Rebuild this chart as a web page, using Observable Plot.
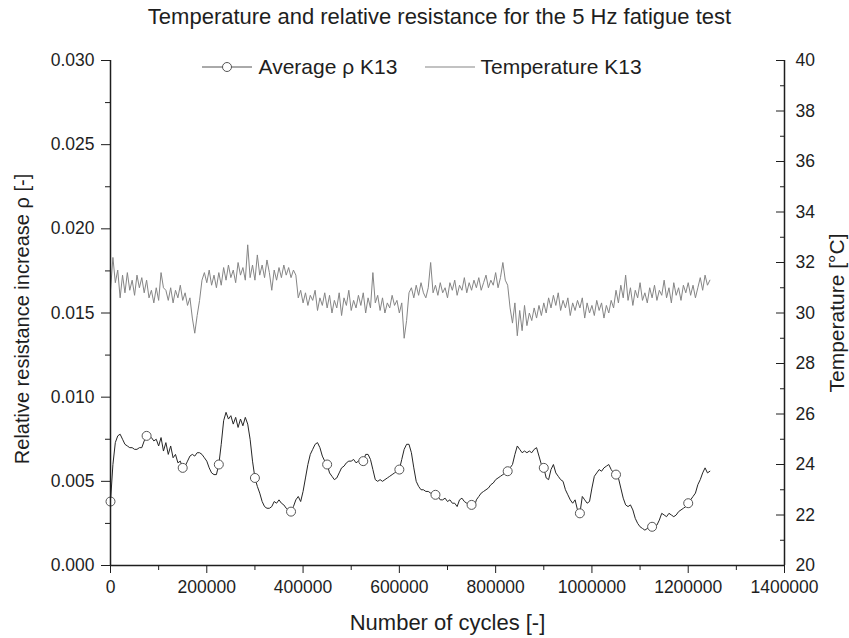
<!DOCTYPE html>
<html><head><meta charset="utf-8">
<script src="https://cdn.jsdelivr.net/npm/d3@7"></script>
<script src="https://cdn.jsdelivr.net/npm/@observablehq/plot@0.6"></script>
<style>body{margin:0;background:#fff;} svg{display:block;}</style>
</head><body><div id="chart"></div>
<script>
const titleText = "Temperature and relative resistance for the 5 Hz fatigue test";
const xLabel = "Number of cycles [-]";
const yLabelLeft = "Relative resistance increase \u03c1 [-]";
const yLabelRight = "Temperature [\u00b0C]";
const seriesNames = ["Average \u03c1 K13", "Temperature K13"];

const cycleStep = 5000;      // spacing of the recorded points (cycles)
const markerEvery = 15;      // a circle marker on every 15th point

// Average rho K13, from 0 to 1 245 000 cycles
const rhoValues = [
  0.0038, 0.0060, 0.0073, 0.0077, 0.0078, 0.0075, 0.0072, 0.0071, 0.0070, 0.0070, 0.0069, 0.0069, 0.0070, 0.0070, 0.0074,
  0.0077, 0.0077, 0.0076, 0.0074, 0.0075, 0.0071, 0.0076, 0.0068, 0.0073, 0.0066, 0.0071, 0.0064, 0.0066, 0.0061, 0.0062,
  0.0058, 0.0059, 0.0062, 0.0065, 0.0066, 0.0065, 0.0067, 0.0067, 0.0066, 0.0064, 0.0062, 0.0058, 0.0055, 0.0054, 0.0054,
  0.0060, 0.0072, 0.0086, 0.0091, 0.0087, 0.0089, 0.0084, 0.0088, 0.0082, 0.0087, 0.0083, 0.0088, 0.0084, 0.0075, 0.0062,
  0.0052, 0.0047, 0.0043, 0.0038, 0.0035, 0.0034, 0.0034, 0.0035, 0.0038, 0.0037, 0.0039, 0.0037, 0.0036, 0.0034, 0.0033,
  0.0032, 0.0035, 0.0039, 0.0041, 0.0038, 0.0044, 0.0052, 0.0060, 0.0066, 0.0069, 0.0072, 0.0073, 0.0070, 0.0065, 0.0062,
  0.0060, 0.0055, 0.0053, 0.0051, 0.0052, 0.0055, 0.0058, 0.0059, 0.0061, 0.0062, 0.0062, 0.0063, 0.0061, 0.0062, 0.0063,
  0.0062, 0.0066, 0.0066, 0.0063, 0.0057, 0.0051, 0.0050, 0.0051, 0.0050, 0.0051, 0.0052, 0.0053, 0.0054, 0.0055, 0.0056,
  0.0057, 0.0063, 0.0069, 0.0072, 0.0072, 0.0067, 0.0058, 0.0050, 0.0047, 0.0045, 0.0045, 0.0044, 0.0044, 0.0043, 0.0042,
  0.0042, 0.0041, 0.0039, 0.0039, 0.0040, 0.0038, 0.0039, 0.0037, 0.0037, 0.0035, 0.0039, 0.0040, 0.0038, 0.0037, 0.0036,
  0.0036, 0.0034, 0.0039, 0.0041, 0.0043, 0.0044, 0.0045, 0.0046, 0.0048, 0.0049, 0.0051, 0.0052, 0.0053, 0.0054, 0.0055,
  0.0056, 0.0058, 0.0060, 0.0066, 0.0071, 0.0069, 0.0067, 0.0068, 0.0067, 0.0068, 0.0067, 0.0069, 0.0070, 0.0065, 0.0060,
  0.0058, 0.0052, 0.0051, 0.0057, 0.0060, 0.0055, 0.0053, 0.0051, 0.0050, 0.0045, 0.0042, 0.0039, 0.0037, 0.0039, 0.0033,
  0.0031, 0.0041, 0.0039, 0.0037, 0.0038, 0.0046, 0.0053, 0.0055, 0.0057, 0.0056, 0.0058, 0.0059, 0.0060, 0.0057, 0.0055,
  0.0054, 0.0052, 0.0046, 0.0040, 0.0036, 0.0035, 0.0036, 0.0033, 0.0028, 0.0025, 0.0023, 0.0022, 0.0021, 0.0022, 0.0022,
  0.0023, 0.0023, 0.0024, 0.0027, 0.0031, 0.0030, 0.0029, 0.0031, 0.0030, 0.0029, 0.0030, 0.0032, 0.0033, 0.0034, 0.0035,
  0.0037, 0.0039, 0.0041, 0.0043, 0.0048, 0.0051, 0.0055, 0.0058, 0.0055, 0.0056
];

// Temperature K13 (deg C), same cycle positions
const tempValues = [
  30.9, 32.2, 31.2, 31.7, 30.6, 31.5, 30.8, 31.6, 30.9, 31.3, 30.7, 31.5, 31.0, 31.4, 30.8,
  31.3, 30.6, 30.9, 30.4, 31.0, 30.5, 31.6, 31.0, 30.9, 30.5, 31.0, 30.4, 30.9, 30.6, 31.1,
  30.5, 30.8, 30.3, 30.6, 29.8, 29.2, 29.9, 30.5, 31.3, 31.6, 31.2, 31.7, 31.1, 31.5, 31.0,
  31.6, 31.1, 31.8, 31.3, 31.9, 31.4, 31.7, 31.2, 32.0, 31.5, 31.8, 31.3, 32.7, 31.4, 31.9,
  31.3, 32.3, 31.5, 31.9, 31.4, 32.1, 31.6, 30.9, 31.7, 31.3, 31.8, 31.4, 31.9, 31.5, 31.8,
  31.4, 31.7, 31.5, 30.6, 30.9, 30.4, 30.8, 30.3, 30.7, 30.5, 30.9, 30.1, 30.6, 30.3, 30.8,
  30.2, 30.7, 30.0, 30.5, 30.2, 30.8, 29.9, 30.6, 30.3, 30.9, 30.1, 30.5, 30.2, 30.7, 30.3,
  30.8, 30.0, 30.6, 30.2, 31.6, 30.4, 30.7, 30.1, 30.6, 30.0, 30.4, 30.2, 30.7, 30.3, 30.5,
  30.0, 30.4, 29.0, 29.7, 30.8, 31.0, 30.6, 31.1, 30.7, 31.2, 30.8, 30.6, 31.0, 32.0, 30.8,
  31.1, 30.7, 31.2, 30.8, 31.0, 30.6, 31.2, 30.9, 31.3, 30.7, 31.1, 30.9, 31.4, 30.8, 31.2,
  30.9, 31.3, 31.0, 31.4, 30.9, 31.2, 31.5, 31.0, 31.3, 31.1, 31.6, 31.0, 31.4, 32.0, 31.3,
  31.1, 30.2, 29.6, 30.4, 29.1, 30.1, 29.3, 30.3, 29.5, 30.0, 29.7, 30.2, 29.8, 30.3, 29.9,
  30.4, 30.0, 30.6, 30.2, 30.7, 30.3, 30.8, 30.1, 30.5, 30.2, 30.6, 29.9, 30.4, 30.1, 30.5,
  30.2, 30.6, 29.8, 30.4, 30.0, 30.3, 29.9, 30.5, 30.1, 30.4, 29.8, 30.3, 30.0, 30.5, 30.2,
  30.9, 30.4, 31.1, 30.6, 31.5, 30.5, 31.0, 30.3, 30.9, 30.6, 31.2, 30.5, 30.8, 30.4, 31.0,
  30.6, 31.1, 30.5, 30.9, 30.7, 31.3, 30.6, 31.0, 30.4, 31.2, 30.7, 31.0, 30.5, 31.1, 30.8,
  31.2, 30.7, 31.1, 30.6, 31.0, 31.4, 30.9, 31.5, 31.1, 31.3
];

const xTicks = [0, 200000, 400000, 600000, 800000, 1000000, 1200000, 1400000];
const xMinorTicks = [100000, 300000, 500000, 700000, 900000, 1100000, 1300000];
const yTicks = [0, 0.005, 0.010, 0.015, 0.020, 0.025, 0.030];
const yMinorTicks = [0.0025, 0.0075, 0.0125, 0.0175, 0.0225, 0.0275];
const tempTicks = [20, 22, 24, 26, 28, 30, 32, 34, 36, 38, 40];
const tempMinorTicks = [21, 23, 25, 27, 29, 31, 33, 35, 37, 39];

const yDomain = [0, 0.030];
const tempDomain = [20, 40];
const tempToRho = t => yDomain[0] + (t - tempDomain[0]) / (tempDomain[1] - tempDomain[0]) * (yDomain[1] - yDomain[0]);
const rhoToTemp = r => tempDomain[0] + (r - yDomain[0]) / (yDomain[1] - yDomain[0]) * (tempDomain[1] - tempDomain[0]);

const rhoData = rhoValues.map((v, i) => ({cycles: i * cycleStep, rho: v}));
const tempData = tempValues.map((v, i) => ({cycles: i * cycleStep, temp: v}));
const markerData = rhoData.filter((d, i) => i % markerEvery === 0);

const font = "'Liberation Sans', Arial, Helvetica, sans-serif";
const tickFontSize = 17.5;
const ink = "#1e1e1e";

const chart = Plot.plot({
  width: 849,
  height: 638,
  marginLeft: 110,
  marginRight: 65,
  marginTop: 60,
  marginBottom: 73,
  style: {fontFamily: font, fontSize: "17px", color: ink, background: "#fff", overflow: "visible"},
  x: {domain: [0, 1400000]},
  y: {domain: yDomain},
  marks: [
    Plot.line(tempData, {x: "cycles", y: d => tempToRho(d.temp), stroke: "#858585", strokeWidth: 1}),
    Plot.line(rhoData, {x: "cycles", y: "rho", stroke: "#262626", strokeWidth: 1}),
    Plot.dot(markerData, {x: "cycles", y: "rho", r: 4.5, fill: "#fff", stroke: "#555", strokeWidth: 1}),
    // axes
    Plot.axisX(xTicks, {anchor: "bottom", tickSize: 8, tickPadding: 7, tickFormat: d => String(d), label: null, stroke: ink, fill: ink, fontSize: tickFontSize}),
    Plot.axisX(xMinorTicks, {anchor: "bottom", tickSize: 5, fill: "none", label: null, stroke: ink}),
    Plot.axisY(yTicks, {anchor: "left", tickSize: 9, tickPadding: 7, tickFormat: d3.format(".3f"), label: null, stroke: ink, fill: ink, fontSize: tickFontSize}),
    Plot.axisY(yMinorTicks, {anchor: "left", tickSize: 5, fill: "none", label: null, stroke: ink}),
    Plot.axisY(tempTicks.map(tempToRho), {anchor: "right", tickSize: -9, tickPadding: 20, tickFormat: d => String(Math.round(rhoToTemp(d))), label: null, stroke: ink, fill: ink, fontSize: tickFontSize}),
    Plot.axisY(tempMinorTicks.map(tempToRho), {anchor: "right", tickSize: -5, tickPadding: 10, fill: "none", label: null, stroke: ink}),
    Plot.ruleX([0, 1400000], {stroke: ink, strokeWidth: 1.5}),
    Plot.ruleY([0], {stroke: ink, strokeWidth: 1.5}),
    // titles
    Plot.text([titleText], {frameAnchor: "top", dy: -44, dx: -8, textAnchor: "middle", lineAnchor: "middle", fontSize: 22, fill: ink}),
    Plot.text([xLabel], {frameAnchor: "bottom", dy: 57, textAnchor: "middle", lineAnchor: "middle", fontSize: 22, fill: ink}),
    Plot.text([yLabelLeft], {frameAnchor: "left", dx: -88, dy: 6, textAnchor: "middle", lineAnchor: "middle", rotate: -90, fontSize: 20, fill: ink}),
    Plot.text([yLabelRight], {frameAnchor: "right", dx: 53, textAnchor: "middle", lineAnchor: "middle", rotate: -90, fontSize: 21, fill: ink}),
    // legend labels
    Plot.text([seriesNames[0]], {frameAnchor: "top-left", dx: 148, dy: 7, textAnchor: "start", lineAnchor: "middle", fontSize: 21, fill: ink}),
    Plot.text([seriesNames[1]], {frameAnchor: "top-left", dx: 370, dy: 7, textAnchor: "start", lineAnchor: "middle", fontSize: 21, fill: ink})
  ]
});

// legend swatches
const svg = d3.select(chart);
const lg = svg.append("g").attr("fill", "none");
lg.append("line").attr("x1", 202).attr("x2", 252).attr("y1", 67).attr("y2", 67).attr("stroke", "#555");
lg.append("circle").attr("cx", 227).attr("cy", 67).attr("r", 4.5).attr("fill", "#fff").attr("stroke", "#555");
lg.append("line").attr("x1", 425).attr("x2", 475).attr("y1", 67).attr("y2", 67).attr("stroke", "#858585");

document.getElementById("chart").appendChild(chart);
</script>
</body></html>
